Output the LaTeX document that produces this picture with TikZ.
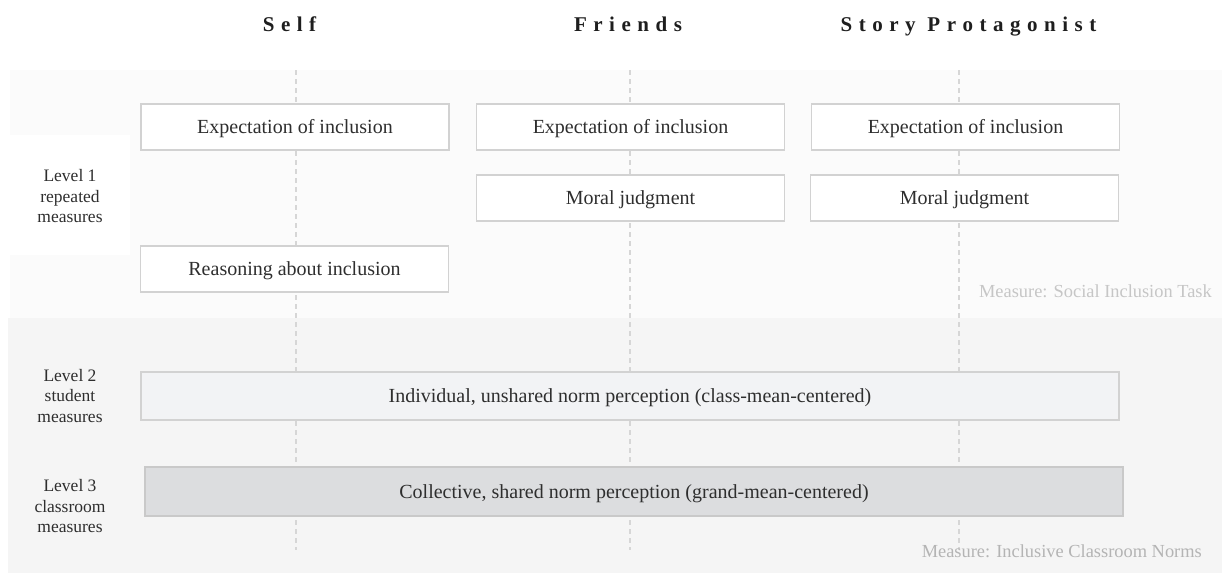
\documentclass[tikz,border=0pt]{standalone}
\usepackage{fontspec}
\setmainfont{Liberation Serif}
\definecolor{bandone}{HTML}{FBFBFB}
\definecolor{bandtwo}{HTML}{F5F5F5}
\definecolor{boxline}{HTML}{D2D2D2}
\definecolor{gridline}{HTML}{D6D6D6}
\definecolor{txt}{HTML}{2E2E2E}
\definecolor{hdr}{HTML}{1E1E1E}
\definecolor{ltwofill}{HTML}{F2F3F5}
\definecolor{lthreefill}{HTML}{DCDDDF}
\definecolor{lthreeline}{HTML}{C9C9C9}
\definecolor{measone}{HTML}{C6C6C6}
\definecolor{meastwo}{HTML}{B4B4B4}
\def\spaceout#1{\spaceoutA#1\relax\unkern}
\def\spaceoutA#1{\ifx#1\relax\else#1\kern6.5pt\expandafter\spaceoutA\fi}
\begin{document}
\begin{tikzpicture}[x=1pt,y=-1pt,
  box/.style={draw=boxline, line width=1.5pt, fill=white, minimum width=308pt,
    minimum height=46pt, inner sep=0pt, text height=13.2pt, text depth=0pt,
    font=\fontsize{20}{24}\selectfont, text=txt},
  header/.style={anchor=base, inner sep=0pt, text=hdr, font=\fontsize{21}{25}\selectfont\bfseries},
  levellabel/.style={align=center, inner sep=0pt, text=txt, font=\fontsize{17.5}{20.5}\selectfont},
  measure/.style={anchor=base east, inner sep=0pt, font=\fontsize{18.4}{22}\selectfont},
  grid/.style={draw=gridline, line width=1.3pt, dash pattern=on 5pt off 4pt}]
\useasboundingbox (0,0) rectangle (1225,574);
% background bands
\fill[bandone] (10,70) rectangle (1222,318);
\fill[white] (0,135) rectangle (130,255);
\fill[bandtwo] (8,318) rectangle (1222,573);
% headers
\node[header] (hself) at (289.5,31.5) {\spaceout{Self}};
\node[header] (hfriends) at (628,31.5) {\spaceout{Friends}};
\node[header] (hstory) at (968.5,31.5) {\spaceout{Story}\kern11.75pt\spaceout{Protagonist}};
% dashed column lines
\coordinate (stop) at (296,70);  \coordinate (sbot) at (296,550);
\coordinate (ftop) at (630,70);  \coordinate (fbot) at (630,550);
\coordinate (ptop) at (959,70);  \coordinate (pbot) at (959,550);
\draw[grid] (stop) -- (sbot);
\draw[grid] (ftop) -- (fbot);
\draw[grid] (ptop) -- (pbot);
% level 1 boxes
\node[box] (selfexp) at (295,127) {Expectation of inclusion};
\node[box] (friendexp) at (630.5,127) {Expectation of inclusion};
\node[box] (storyexp) at (965.5,127) {Expectation of inclusion};
\node[box] (friendmoral) at (630.5,198) {Moral judgment};
\node[box] (storymoral) at (964.5,198) {Moral judgment};
\node[box] (selfreason) at (294.5,269) {Reasoning about inclusion};
% level 2 and 3 bars
\node[box, fill=ltwofill, minimum width=978pt, minimum height=48pt] (lvltwo) at (630,396)
  {Individual, unshared norm perception (class-mean-centered)};
\node[box, fill=lthreefill, draw=lthreeline, minimum width=978pt, minimum height=49pt] (lvlthree) at (634,491.5)
  {Collective, shared norm perception (grand-mean-centered)};
% level labels
\node[levellabel] (lone) at (70,196.5) {Level 1\\repeated\\measures};
\node[levellabel] (ltwo) at (70,396) {Level 2\\student\\measures};
\node[levellabel] (lthree) at (70,506.5) {Level 3\\classroom\\measures};
% measure notes
\node[measure, text=measone] (mone) at (1212,297) {Measure: Social Inclusion Task};
\node[measure, text=meastwo] (mtwo) at (1202,557) {Measure: Inclusive Classroom Norms};
\end{tikzpicture}
\end{document}
